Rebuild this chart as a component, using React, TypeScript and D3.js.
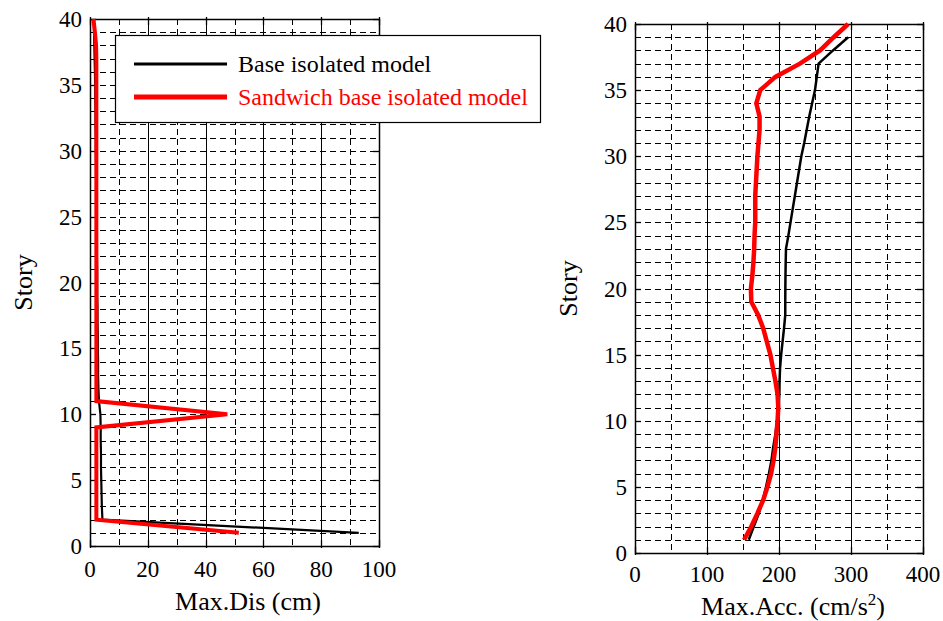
import React from "react";
import * as d3 from "d3";

// ---------- data ----------
const stories40: number[] = [1,2,3,4,5,6,7,8,9,10,11,12,13,14,15,16,17,18,19,20,21,22,23,24,25,26,27,28,29,30,31,32,33,34,35,36,37,38,39,40];
const stories39: number[] = [1,2,3,4,5,6,7,8,9,10,11,12,13,14,15,16,17,18,19,20,21,22,23,24,25,26,27,28,29,30,31,32,33,34,35,36,37,38,39];

// Max displacement (cm)
const dispBase: number[] = [93,4.3,4.1,4.0,3.9,3.8,3.8,3.7,3.7,3.6,3.1,2.9,2.8,2.8,2.7,2.7,2.6,2.6,2.5,2.5,2.5,2.4,2.4,2.3,2.3,2.2,2.2,2.1,2.1,2.0,2.0,1.9,1.9,1.8,1.8,1.7,1.6,1.5,1.4,1.3];
const dispSandwich: number[] = [51.5,2.2,2.2,2.2,2.2,2.2,2.2,2.2,2.2,47.5,2.2,2.2,2.2,2.2,2.2,2.2,2.2,2.2,2.2,2.2,2.2,2.2,2.2,2.2,2.2,2.2,2.2,2.2,2.2,2.2,2.2,2.2,2.2,2.2,2.2,2.2,2.2,2.1,1.7,1.2];

// Max acceleration (cm/s^2)
const accBase: number[] = [158,165,172,177.5,182,186,189.5,192,195,197.5,199.5,200.5,200.8,201.5,203,205,207,208.7,208.7,208.8,209,209.3,209.7,213,216,219,222,225,228,231,235,238.5,242,246,250,252.5,255,275,296];
const accSandwich: number[] = [151.5,161.5,170,178,184,189,192.5,195,196.5,198,199,198,195,191.5,188,183,178,171,161.5,161,163,164.5,165.5,166,167,167,167,168,169,170,171.5,173,173,168.5,174,195,229,257,276,296];

const dispTicks: number[] = [0,20,40,60,80,100];
const accTicks: number[] = [0,100,200,300,400];
const storyTicks: number[] = [0,5,10,15,20,25,30,35,40];

const legendLabels: string[] = ["Base isolated model", "Sandwich base isolated model"];

const FONT = "Liberation Serif, Times New Roman, serif";
const DASH = "6,4";
const px = (v: number) => Math.round(v) + 0.5;

type Series = { xs: number[]; ys: number[]; color: string; width: number };

function Panel(props: {
  left: number; right: number; top: number; bottom: number;
  xMax: number; xTicks: number[]; xMinorStep: number;
  series: Series[]; labelX: number; storyLabelX: number;
  xLabel: React.ReactNode; xLabelY: number; tickLabelY: number;
}) {
  const { left, right, top, bottom, xMax, xTicks, xMinorStep, series } = props;
  const x = d3.scaleLinear().domain([0, xMax]).range([left, right]);
  const y = d3.scaleLinear().domain([0, 40]).range([bottom, top]);
  const minors = d3.range(xMinorStep, xMax, xMinorStep * 2);
  const hLines = d3.range(1, 40);
  const line = d3.line<[number, number]>().x(d => x(d[0])).y(d => y(d[1]));
  const tl = 6;
  const txt = { fontFamily: FONT };
  return (
    <g>
      {hLines.map(s => (
        <line key={"h" + s} x1={left} x2={right} y1={px(y(s))} y2={px(y(s))} stroke="#000" strokeWidth={1} strokeDasharray={DASH} />
      ))}
      {minors.map(v => (
        <line key={"vm" + v} x1={px(x(v))} x2={px(x(v))} y1={top} y2={bottom} stroke="#000" strokeWidth={1} strokeDasharray={DASH} />
      ))}
      {xTicks.slice(1, -1).map(v => (
        <line key={"vM" + v} x1={px(x(v))} x2={px(x(v))} y1={top} y2={bottom} stroke="#000" strokeWidth={1} />
      ))}
      {storyTicks.map(s => (
        <g key={"yt" + s}>
          <line x1={left} x2={left + tl} y1={px(y(s))} y2={px(y(s))} stroke="#000" strokeWidth={1.3} />
          <line x1={right} x2={right - tl} y1={px(y(s))} y2={px(y(s))} stroke="#000" strokeWidth={1.3} />
          <text x={left - 8} y={y(s)} dy="0.35em" textAnchor="end" style={txt} fontSize={23}>{s}</text>
        </g>
      ))}
      {xTicks.map(v => (
        <g key={"xt" + v}>
          <line x1={px(x(v))} x2={px(x(v))} y1={bottom + 2} y2={bottom - tl} stroke="#000" strokeWidth={1.3} />
          <line x1={px(x(v))} x2={px(x(v))} y1={top - 2} y2={top + tl} stroke="#000" strokeWidth={1.3} />
          <text x={x(v)} y={props.tickLabelY} textAnchor="middle" style={txt} fontSize={23}>{v}</text>
        </g>
      ))}
      <rect x={px(left)} y={px(top)} width={Math.round(right - left)} height={Math.round(bottom - top)} fill="none" stroke="#000" strokeWidth={1.5} />
      {series.map((s, i) => (
        <path key={"s" + i} d={line(s.ys.map((yy, j) => [s.xs[j], yy] as [number, number])) || ""} fill="none" stroke={s.color} strokeWidth={s.width} strokeLinejoin="miter" />
      ))}
      <text x={props.labelX} y={props.xLabelY} textAnchor="middle" style={txt} fontSize={26}>{props.xLabel}</text>
      <text transform={`translate(${props.storyLabelX},${(top + bottom) / 2}) rotate(-90)`} textAnchor="middle" dy="0.35em" style={txt} fontSize={26}>Story</text>
    </g>
  );
}

export default function App() {
  const txt = { fontFamily: FONT };
  return (
    <svg width={943} height={621} style={{ position: "absolute", left: 0, top: 0, background: "#fff" }}>
      <rect width={943} height={621} fill="#fff" />
      <Panel left={90} right={379} top={19} bottom={546} xMax={100} xTicks={dispTicks} xMinorStep={10}
        series={[
          { xs: dispBase, ys: stories40, color: "#000", width: 2.2 },
          { xs: dispSandwich, ys: stories40, color: "#ff0000", width: 4 },
        ]}
        labelX={248} storyLabelX={23} xLabel="Max.Dis (cm)" xLabelY={610} tickLabelY={577} />
      <Panel left={635} right={923} top={24} bottom={553} xMax={400} xTicks={accTicks} xMinorStep={50}
        series={[
          { xs: accBase, ys: stories39, color: "#000", width: 2.5 },
          { xs: accSandwich, ys: stories40, color: "#ff0000", width: 4.5 },
        ]}
        labelX={793} storyLabelX={568}
        xLabel={<>Max.Acc. (cm/s<tspan dy={-10} fontSize={17}>2</tspan><tspan dy={10}>)</tspan></>}
        xLabelY={615} tickLabelY={582} />
      <g>
        <rect x={115.5} y={35.5} width={425} height={87} fill="#fff" stroke="#000" strokeWidth={1.2} />
        <line x1={134} x2={227} y1={64} y2={64} stroke="#000" strokeWidth={3} />
        <line x1={134} x2={227} y1={97} y2={97} stroke="#ff0000" strokeWidth={5} />
        <text x={238} y={64} dy="0.35em" style={txt} fontSize={24} fill="#000">{legendLabels[0]}</text>
        <text x={238} y={97} dy="0.35em" style={txt} fontSize={24} fill="#ff0000">{legendLabels[1]}</text>
      </g>
    </svg>
  );
}
